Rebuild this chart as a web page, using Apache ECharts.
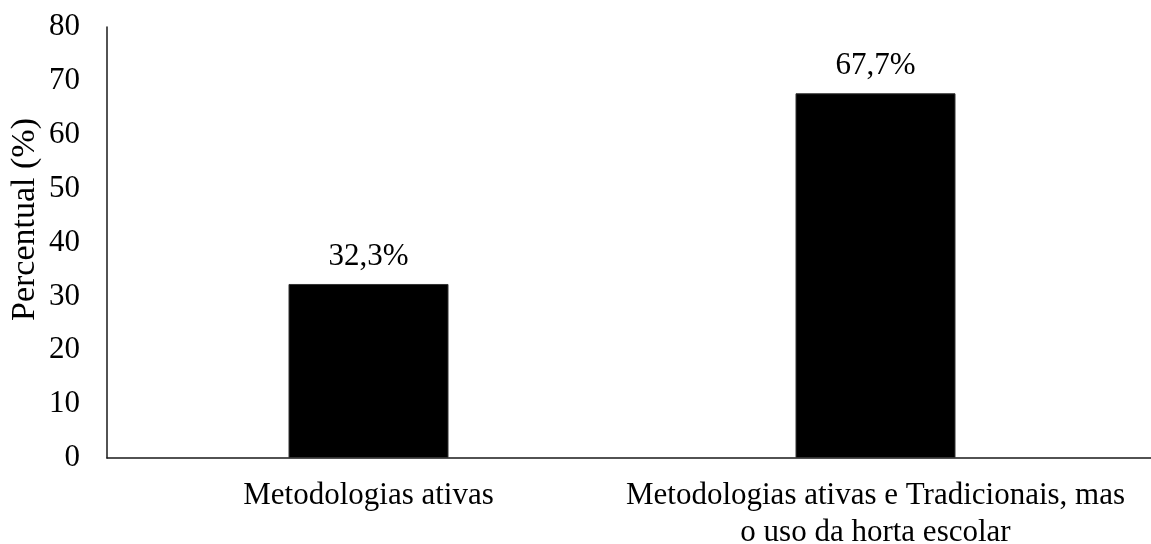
<!DOCTYPE html>
<html>
<head>
<meta charset="utf-8">
<script src="https://cdn.jsdelivr.net/npm/echarts@6/dist/echarts.min.js"></script>
<style>
  html, body { margin: 0; padding: 0; background: #fff; }
  #chart { width: 1151px; height: 544px; }
</style>
</head>
<body>
<div id="chart"></div>
<script>
// Categories and percentages
const categories = [
  'Metodologias ativas',
  'Metodologias ativas e Tradicionais, mas\no uso da horta escolar'
];
const values = [32.3, 67.7];
const yTicks = { min: 0, max: 80, interval: 10 };
const yAxisTitle = 'Percentual (%)';

const FONT = '"Liberation Serif", "Times New Roman", serif';
const INK = '#000';
const LINE = { color: '#1a1a1a', width: 1.5 };

const chart = echarts.init(document.getElementById('chart'), null, { renderer: 'canvas' });

chart.setOption({
  backgroundColor: '#fff',
  animation: false,
  grid: [
    { left: 115, right: 22, top: 27, bottom: 86, containLabel: false, outerBoundsMode: 'none' },
    // wider frame that only carries the baseline across the full width
    { left: 107, right: 0, top: 27, bottom: 86, containLabel: false, outerBoundsMode: 'none' }
  ],
  xAxis: [
    {
      type: 'category',
      gridIndex: 0,
      data: categories,
      axisLine: { show: false },
      axisTick: { show: false },
      axisLabel: {
        color: INK,
        fontFamily: FONT,
        fontSize: 31,
        lineHeight: 37,
        margin: 19,
        interval: 0
      }
    },
    {
      type: 'value',
      gridIndex: 1,
      min: 0,
      max: 1,
      axisLine: { show: true, onZero: false, lineStyle: LINE },
      axisTick: { show: false },
      axisLabel: { show: false },
      splitLine: { show: false }
    }
  ],
  yAxis: [
    {
      type: 'value',
      gridIndex: 0,
      min: yTicks.min,
      max: yTicks.max,
      interval: yTicks.interval,
      offset: 8,
      name: yAxisTitle,
      nameLocation: 'middle',
      nameGap: 65,
      nameMoveOverlap: false,
      nameTextStyle: {
        color: INK,
        fontFamily: FONT,
        fontSize: 34,
        padding: [0, 0, 0, 46]
      },
      axisLine: { show: true, lineStyle: LINE },
      axisTick: { show: false },
      axisLabel: {
        color: INK,
        fontFamily: FONT,
        fontSize: 31,
        margin: 27
      },
      splitLine: { show: false }
    },
    {
      type: 'value',
      gridIndex: 1,
      min: 0,
      max: 1,
      show: false
    }
  ],
  series: [
    {
      type: 'bar',
      xAxisIndex: 0,
      yAxisIndex: 0,
      data: values,
      barWidth: 160,
      itemStyle: { color: '#000', borderColor: '#333', borderWidth: 1 },
      label: {
        show: true,
        position: 'top',
        distance: 12,
        color: INK,
        fontFamily: FONT,
        fontSize: 31,
        formatter: p => p.value.toFixed(1).replace('.', ',') + '%'
      }
    }
  ]
});
</script>
</body>
</html>
